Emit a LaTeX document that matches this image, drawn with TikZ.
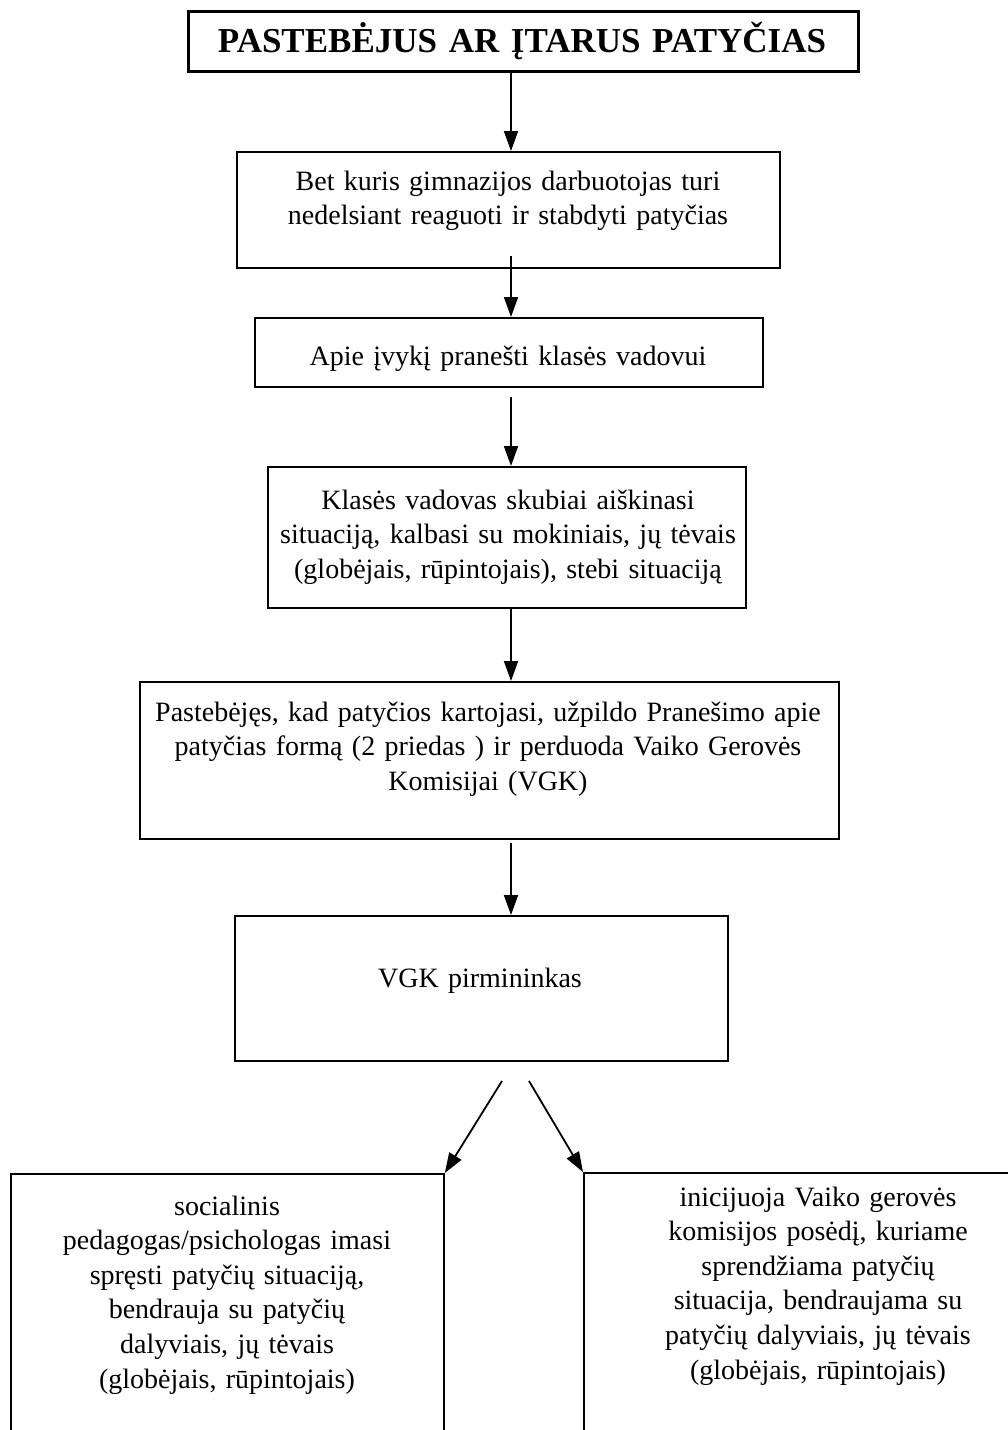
\documentclass[tikz,border=0pt]{standalone}
\usepackage{fontspec}
\setmainfont{Liberation Serif}
\usetikzlibrary{arrows.meta}
\begin{document}
\begin{tikzpicture}[x=1pt,y=-1pt,
  box/.style={draw, line width=1.8pt, inner sep=0pt, anchor=north west},
  txt/.style={inner sep=0pt, text width=700pt, align=center, anchor=base,
              font=\fontsize{28}{34.6}\selectfont},
  arr/.style={line width=1.8pt, -{Triangle[length=20pt,width=14pt]}}]
\useasboundingbox (0,0) rectangle (1008,1430);
\clip (0,0) rectangle (1008,1430);
\fill[white] (0,0) rectangle (1008,1430);

% boxes
\node[box, line width=2.6pt, minimum width=670pt, minimum height=60pt] (b1) at (187,10) {};
\node[box, minimum width=543pt, minimum height=116pt] (b2) at (236,151) {};
\node[box, minimum width=508pt, minimum height=69pt] (b3) at (254,317) {};
\node[box, minimum width=478pt, minimum height=141pt] (b4) at (267,466) {};
\node[box, minimum width=699pt, minimum height=157pt] (b5) at (139,681) {};
\node[box, minimum width=493pt, minimum height=145pt] (b6) at (234,915) {};
\node[box, minimum width=433pt, minimum height=400pt] (b7) at (10,1173) {};
\node[box, minimum width=500pt, minimum height=400pt] (b8) at (583,1172) {};

% texts
\node[txt, font=\bfseries\fontsize{35}{40}\selectfont] (t1) at (522,52) {PASTEBĖJUS AR ĮTARUS PATYČIAS};
\node[txt] (t2) at (508,190) {Bet kuris gimnazijos darbuotojas turi\\nedelsiant reaguoti ir stabdyti patyčias};
\node[txt] (t3) at (508,365) {Apie įvykį pranešti klasės vadovui};
\node[txt] (t4) at (508,509) {Klasės vadovas skubiai aiškinasi\\situaciją, kalbasi su mokiniais, jų tėvais\\(globėjais, rūpintojais), stebi situaciją};
\node[txt] (t5) at (488,721) {Pastebėjęs, kad patyčios kartojasi, užpildo Pranešimo apie\\patyčias formą (2 priedas ) ir perduoda Vaiko Gerovės\\Komisijai (VGK)};
\node[txt] (t6) at (480,987) {VGK pirmininkas};
\node[txt] (t7) at (227,1215) {socialinis\\pedagogas/psichologas imasi\\spręsti patyčių situaciją,\\bendrauja su patyčių\\dalyviais, jų tėvais\\(globėjais, rūpintojais)};
\node[txt] (t8) at (818,1206) {inicijuoja Vaiko gerovės\\komisijos posėdį, kuriame\\sprendžiama patyčių\\situacija, bendraujama su\\patyčių dalyviais, jų tėvais\\(globėjais, rūpintojais)};

% connector start points
\coordinate (s1) at (511,70);
\coordinate (s2) at (511,256);
\coordinate (s3) at (511,397);
\coordinate (s4) at (511,607);
\coordinate (s5) at (511,843);
\coordinate (s6) at (502,1081);
\coordinate (s7) at (529,1081);

\draw[arr] (s1) -- (s1 |- b2.north);
\draw[arr] (s2) -- (s2 |- b3.north);
\draw[arr] (s3) -- (s3 |- b4.north);
\draw[arr] (s4) -- (s4 |- b5.north);
\draw[arr] (s5) -- (s5 |- b6.north);
\draw[arr] (s6) -- (b7.north east);
\draw[arr] (s7) -- (b8.north west);
\end{tikzpicture}
\end{document}
